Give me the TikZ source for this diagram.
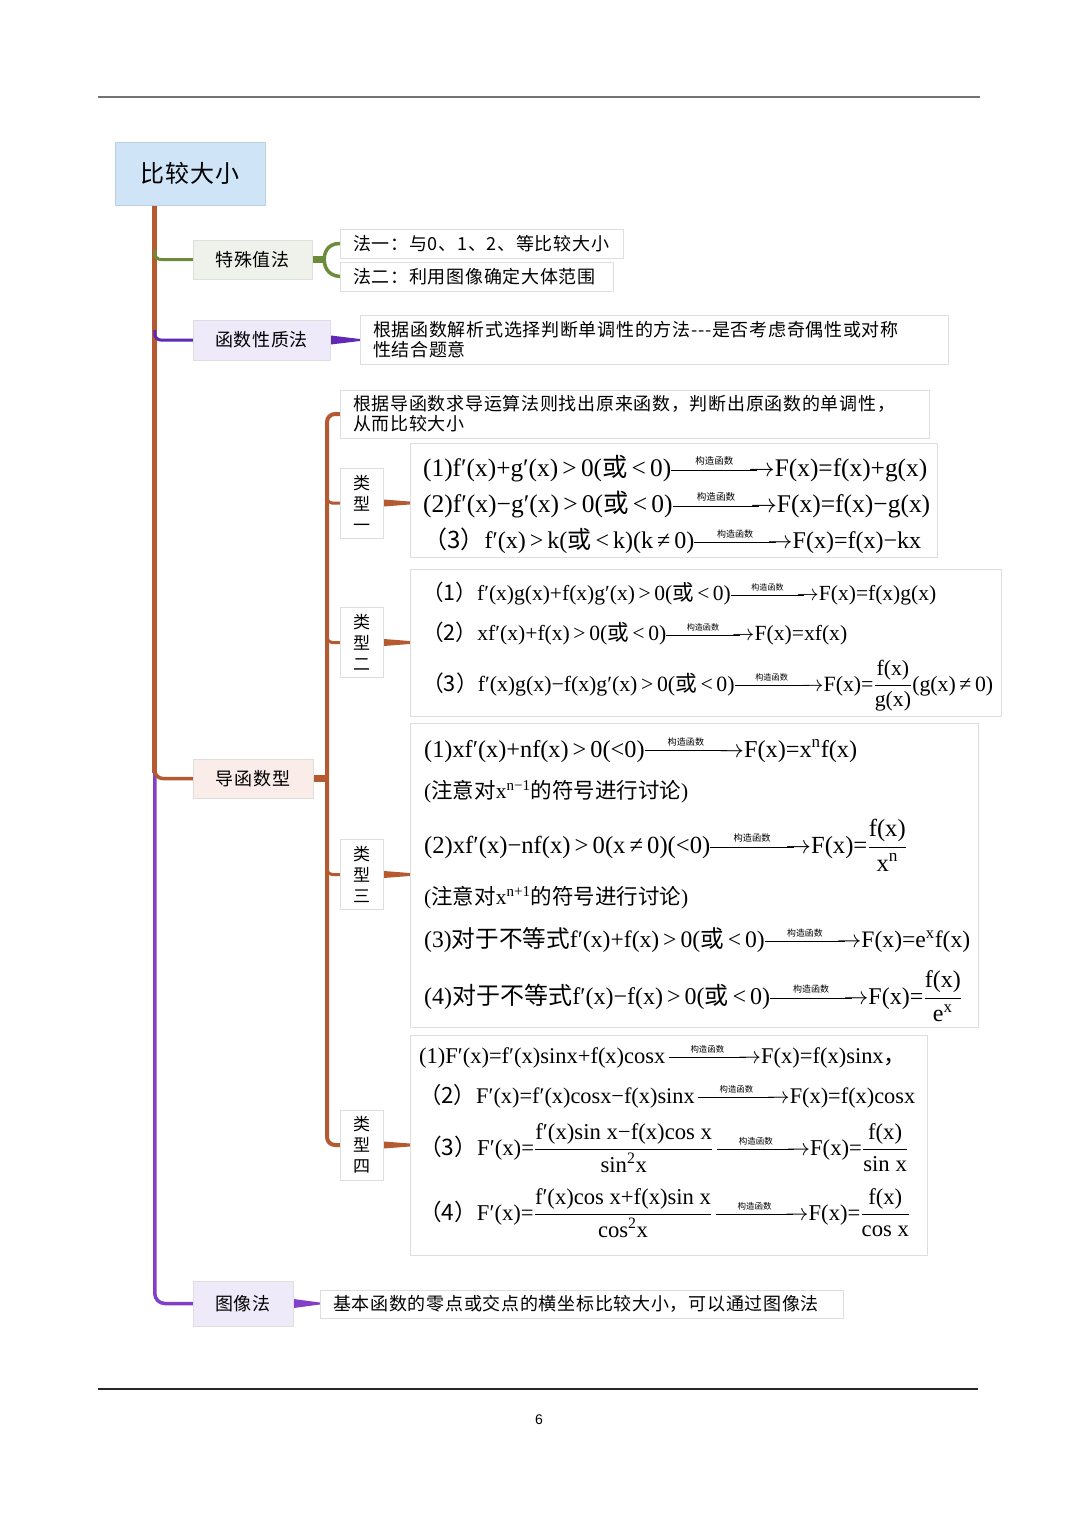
\documentclass[tikz,border=0pt]{standalone}
\usepackage{fontspec}
\usepackage{amsmath}
\usepackage{graphicx}
\setmainfont{Liberation Serif}
\newfontfamily\zhfont{Noto Sans CJK SC}
\newfontfamily\zhbox[LetterSpace=4]{Noto Sans CJK SC}
\newfontfamily\pgnum{Liberation Sans}
\usetikzlibrary{calc}
\pgfdeclarelayer{bg}
\pgfsetlayers{bg,main}

\definecolor{brn}{RGB}{181,89,48}
\definecolor{grn}{RGB}{108,140,58}
\definecolor{pur}{RGB}{96,40,180}
\definecolor{pur2}{RGB}{130,64,200}
\definecolor{rootblue}{RGB}{207,228,247}
\definecolor{rootbd}{RGB}{188,206,226}
\definecolor{greenfill}{RGB}{238,242,234}
\definecolor{lavfill}{RGB}{238,234,250}
\definecolor{pinkfill}{RGB}{250,236,232}
\definecolor{boxbd}{RGB}{222,222,222}

\newcommand{\zh}[1]{{\zhfont #1}}
\newcommand{\gz}{\ensuremath{\mathrel{\rlap{\raisebox{9.5pt}{\makebox[3.4em]{\zhfont\fontsize{7.5}{7.5}\selectfont 构造函数}}}\rule[\dimexpr\fontdimen22\textfont2-0.4pt\relax]{3.4em}{0.8pt}\mkern-11mu\rightarrow}}}
\newcommand{\fr}[2]{\ensuremath{\dfrac{\text{#1}}{\text{#2}}}}
\newcommand{\fl}[2]{\resizebox{#1}{!}{\fontsize{20}{24}\selectfont #2}}
\newcommand{\tap}[5]{\fill[#1] ($(#2.east)+(0.5,-#4)$) -- ($(#2.east -| #3.west)+(0,-#5)$) -- ($(#2.east -| #3.west)+(0,#5)$) -- ($(#2.east)+(0.5,#4)$) -- cycle;}

\tikzset{
  rootbox/.style={draw=rootbd, fill=rootblue, minimum width=150pt, minimum height=63pt, inner sep=0, font=\zhbox\fontsize{24}{28}\selectfont},
  mainbox/.style={draw=boxbd, inner sep=0, font=\zhbox\fontsize{18}{22}\selectfont},
  txtbox/.style={draw=boxbd, fill=white, align=left, inner xsep=13pt, inner ysep=0, font=\zhbox\fontsize{18}{20}\selectfont},
  typebox/.style={draw=boxbd, fill=white, minimum width=43pt, minimum height=70pt, inner sep=0, align=center, font=\zhbox\fontsize{17}{21}\selectfont},
  contbox/.style={draw=boxbd, fill=white, inner sep=0},
  fline/.style={anchor=west, inner sep=0},
}

\begin{document}
\begin{tikzpicture}[x=1pt,y=-1pt]
\begin{pgfonlayer}{bg}
\fill[white] (0,0) rectangle (1080,1517);
\end{pgfonlayer}
\useasboundingbox (0,0) rectangle (1080,1517);

% page rules
\draw[line width=2pt, color={rgb,255:red,115;green,115;blue,115}] (98,97) -- (980,97);
\draw[line width=2.5pt, color=black!85] (98,1389) -- (978,1389);
\node[font=\pgnum\fontsize{14}{14}\selectfont] (pg) at (539,1420) {6};

% root
\node[rootbox] (root) at (190,173.5) {比较大小};

% level 1 boxes
\node[mainbox, fill=greenfill, minimum width=119pt, minimum height=39pt] (tsz) at (252.5,259.5) {特殊值法};
\node[mainbox, fill=lavfill, minimum width=137pt, minimum height=40pt] (hs) at (261.5,340) {函数性质法};
\node[mainbox, fill=pinkfill, minimum width=120pt, minimum height=39pt] (ds) at (253,778.5) {导函数型};
\node[mainbox, fill=lavfill, minimum width=100pt, minimum height=45pt] (tx) at (243,1303.5) {图像法};

% text boxes
\node[txtbox, text width=257pt, minimum height=29pt] (f1) at (481.5,243.5) {法一：与0、1、2、等比较大小};
\node[txtbox, text width=247pt, minimum height=29pt] (f2) at (476.5,276.5) {法二：利用图像确定大体范围};
\node[txtbox, text width=562pt, minimum height=49pt] (hst) at (654,339.5) {根据函数解析式选择判断单调性的方法---是否考虑奇偶性或对称\\性结合题意};
\node[txtbox, text width=563pt, minimum height=48pt] (dtxt) at (634.5,414) {根据导函数求导运算法则找出原来函数，判断出原函数的单调性，\\从而比较大小};
\node[txtbox, text width=497pt, minimum height=28pt] (txt) at (581.5,1304) {基本函数的零点或交点的横坐标比较大小，可以通过图像法};

% type boxes
\node[typebox] (t1) at (361.5,503) {类\\型\\一};
\node[typebox] (t2) at (361.5,642.5) {类\\型\\二};
\node[typebox] (t3) at (361.5,874.5) {类\\型\\三};
\node[typebox] (t4) at (361.5,1145) {类\\型\\四};

% content boxes
\node[contbox, minimum width=527pt, minimum height=114pt] (c1) at (673.5,500) {};
\node[contbox, minimum width=591pt, minimum height=147pt] (c2) at (705.5,642.5) {};
\node[contbox, minimum width=568pt, minimum height=304pt] (c3) at (694,875) {};
\node[contbox, minimum width=517pt, minimum height=220pt] (c4) at (668.5,1145) {};

% type one
\node[fline] (l11) at (423,469) {\fl{504pt}{(1)f′(x)+g′(x)\,>\,0(\zh{或}\,<\,0)\gz F(x)=f(x)+g(x)}};
\node[fline] (l12) at (423,505) {\fl{507pt}{(2)f′(x)−g′(x)\,>\,0(\zh{或}\,<\,0)\gz F(x)=f(x)−g(x)}};
\node[fline] (l13) at (423,541) {\fl{498pt}{\zh{（3）}f′(x)\,>\,k(\zh{或}\,<\,k)(k\,≠\,0)\gz F(x)=f(x)−kx}};

% type two
\node[fline] (l21) at (422,594) {\fl{514pt}{\zh{（1）}f′(x)g(x)+f(x)g′(x)\,>\,0(\zh{或}\,<\,0)\gz F(x)=f(x)g(x)}};
\node[fline] (l22) at (422,634) {\fl{425pt}{\zh{（2）}xf′(x)+f(x)\,>\,0(\zh{或}\,<\,0)\gz F(x)=xf(x)}};
\node[fline] (l23) at (422,686) {\fl{571pt}{\zh{（3）}f′(x)g(x)−f(x)g′(x)\,>\,0(\zh{或}\,<\,0)\gz F(x)=\fr{f(x)}{g(x)}(g(x)\,≠\,0)}};

% type three
\node[fline] (l31) at (424,750) {\fl{433pt}{(1)xf′(x)+nf(x)\,>\,0(<0)\gz F(x)=x\textsuperscript{n}f(x)}};
\node[fline] (l32) at (424,792) {\fl{264pt}{(\zh{注意对}x\textsuperscript{n−1}\zh{的符号进行讨论})}};
\node[fline] (l33) at (424,845) {\fl{483pt}{(2)xf′(x)−nf(x)\,>\,0(x\,≠\,0)(<0)\gz F(x)=\fr{f(x)}{x\textsuperscript{n}}}};
\node[fline] (l34) at (424,898) {\fl{264pt}{(\zh{注意对}x\textsuperscript{n+1}\zh{的符号进行讨论})}};
\node[fline] (l35) at (424,940) {\fl{546pt}{(3)\zh{对于不等式}f′(x)+f(x)\,>\,0(\zh{或}\,<\,0)\gz F(x)=e\textsuperscript{x}f(x)}};
\node[fline] (l36) at (424,996) {\fl{538pt}{(4)\zh{对于不等式}f′(x)−f(x)\,>\,0(\zh{或}\,<\,0)\gz F(x)=\fr{f(x)}{e\textsuperscript{x}}}};

% type four
\node[fline] (l41) at (419,1057) {\fl{487pt}{(1)F′(x)=f′(x)sinx+f(x)cosx\,\gz F(x)=f(x)sinx\zh{，}}};
\node[fline] (l42) at (419,1096) {\fl{496pt}{\zh{（2）}F′(x)=f′(x)cosx−f(x)sinx\,\gz F(x)=f(x)cosx}};
\node[fline] (l43) at (419,1148) {\fl{489pt}{\zh{（3）}F′(x)=\fr{f′(x)sin x−f(x)cos x}{sin\textsuperscript{2}x}\,\gz F(x)=\fr{f(x)}{sin x}}};
\node[fline] (l44) at (419,1213) {\fl{491pt}{\zh{（4）}F′(x)=\fr{f′(x)cos x+f(x)sin x}{cos\textsuperscript{2}x}\,\gz F(x)=\fr{f(x)}{cos x}}};

% connectors
\begin{pgfonlayer}{bg}
\coordinate (trk) at ([xshift=40pt]root.south west);
\coordinate (st) at (327,800);
% main trunk
\draw[brn, line width=5pt] (trk) -- ($(trk |- ds.west)+(0,-6)$);
\draw[pur2, line width=3.5pt, rounded corners=10pt] ($(trk |- ds.west)+(0,-8)$) |- (tx.west);
\draw[brn, line width=3.5pt, rounded corners=8pt] ($(trk |- ds.west)+(0,-14)$) |- (ds.west);
\draw[grn, line width=3pt, rounded corners=6pt] ($(trk |- tsz.west)+(0,-10)$) |- (tsz.west);
\draw[pur, line width=3pt, rounded corners=6pt] ($(trk |- hs.west)+(0,-10)$) |- (hs.west);
% brace for special values
\coordinate (bc) at ($(tsz.east)+(12,0)$);
\draw[grn, line width=7pt] (tsz.east) -- (bc);
\draw[grn, line width=3.5pt, line cap=round] (f1.west) .. controls ($(bc)+(2,-16)$) and ($(bc)+(0,-5)$) .. (bc) .. controls ($(bc)+(0,5)$) and ($(bc)+(2,16)$) .. (f2.west);
% tapered
\tap{pur}{hs}{hst}{4.5}{1}
\tap{pur2}{tx}{txt}{4.5}{1}
\tap{brn}{t1}{c1}{3.5}{1.5}
\tap{brn}{t2}{c2}{3.5}{1.5}
\tap{brn}{t3}{c3}{3.5}{1.5}
\tap{brn}{t4}{c4}{3.5}{1.5}
% sub trunk
\draw[brn, line width=7pt] (ds.east) -- (st |- ds.west);
\draw[brn, line width=4pt, rounded corners=8pt] (dtxt.west) -| (st) |- (t4.west);
\foreach \n in {t1,t2,t3} {
  \draw[brn, line width=3pt, rounded corners=5pt] ($(st |- \n.west)+(0,-8)$) |- (\n.west);
}
\end{pgfonlayer}
\end{tikzpicture}
\end{document}
